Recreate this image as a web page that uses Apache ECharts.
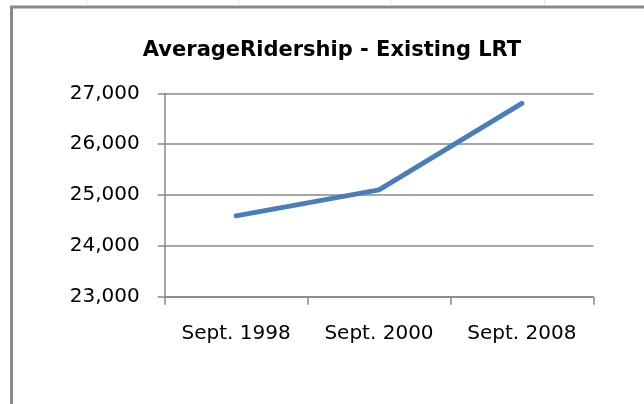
<!DOCTYPE html>
<html>
<head>
<meta charset="utf-8">
<script src="https://cdn.jsdelivr.net/npm/echarts@6/dist/echarts.min.js"></script>
<style>
  html, body { margin: 0; padding: 0; background: #ffffff; }
  #chart { width: 644px; height: 404px; }
</style>
</head>
<body>
<div id="chart"></div>
<script>
const titleText = 'AverageRidership - Existing LRT';
const categories = ['Sept. 1998', 'Sept. 2000', 'Sept. 2008'];
const ridership = [24590, 25100, 26800];
const yMin = 23000;
const yMax = 27000;
const yStep = 1000;

const FONT = '"DejaVu Sans", "Liberation Sans", sans-serif';
const chart = echarts.init(document.getElementById('chart'), null, { renderer: 'canvas' });

const cellLinesX = [86, 238, 390, 544];

chart.setOption({
  backgroundColor: '#ffffff',
  animation: false,
  title: {
    text: titleText,
    left: 327,
    top: 35,
    textAlign: 'center',
    textStyle: { fontFamily: FONT, fontWeight: 'bold', fontSize: 21, color: '#000000' }
  },
  grid: { left: 164.7, right: 50.7, top: 93.3, bottom: 107.3, containLabel: false },
  xAxis: {
    type: 'category',
    data: categories,
    boundaryGap: true,
    axisLine: { show: true, lineStyle: { color: '#888888', width: 1.5 } },
    axisTick: { show: true, length: 8, lineStyle: { color: '#888888', width: 1.5 } },
    axisLabel: { margin: 27, fontFamily: FONT, fontSize: 20, color: '#000000' },
    splitLine: { show: false }
  },
  yAxis: {
    type: 'value',
    min: yMin,
    max: yMax,
    interval: yStep,
    axisLine: { show: true, lineStyle: { color: '#888888', width: 1.5 } },
    axisTick: { show: true, length: 7, lineStyle: { color: '#888888', width: 1.5 } },
    axisLabel: {
      margin: 25, fontFamily: FONT, fontSize: 20, color: '#000000',
      formatter: v => v.toLocaleString('en-US')
    },
    splitLine: { show: true, lineStyle: { color: '#888888', width: 1.5 } }
  },
  series: [{
    type: 'line',
    data: ridership,
    showSymbol: false,
    symbol: 'none',
    lineStyle: { color: '#4a7ebb', width: 5, cap: 'round', join: 'round' }
  }],
  graphic: [
    ...cellLinesX.map(x => ({
      type: 'line', silent: true,
      shape: { x1: x + 0.5, y1: 0, x2: x + 0.5, y2: 5 },
      style: { stroke: '#e4e4e4', lineWidth: 1 }
    })),
    {
      type: 'polyline', silent: true,
      shape: { points: [[11.5, 404], [11.5, 7], [644, 7]] },
      style: { stroke: '#8a8a8a', lineWidth: 3, fill: null }
    }
  ]
});
</script>
</body>
</html>
